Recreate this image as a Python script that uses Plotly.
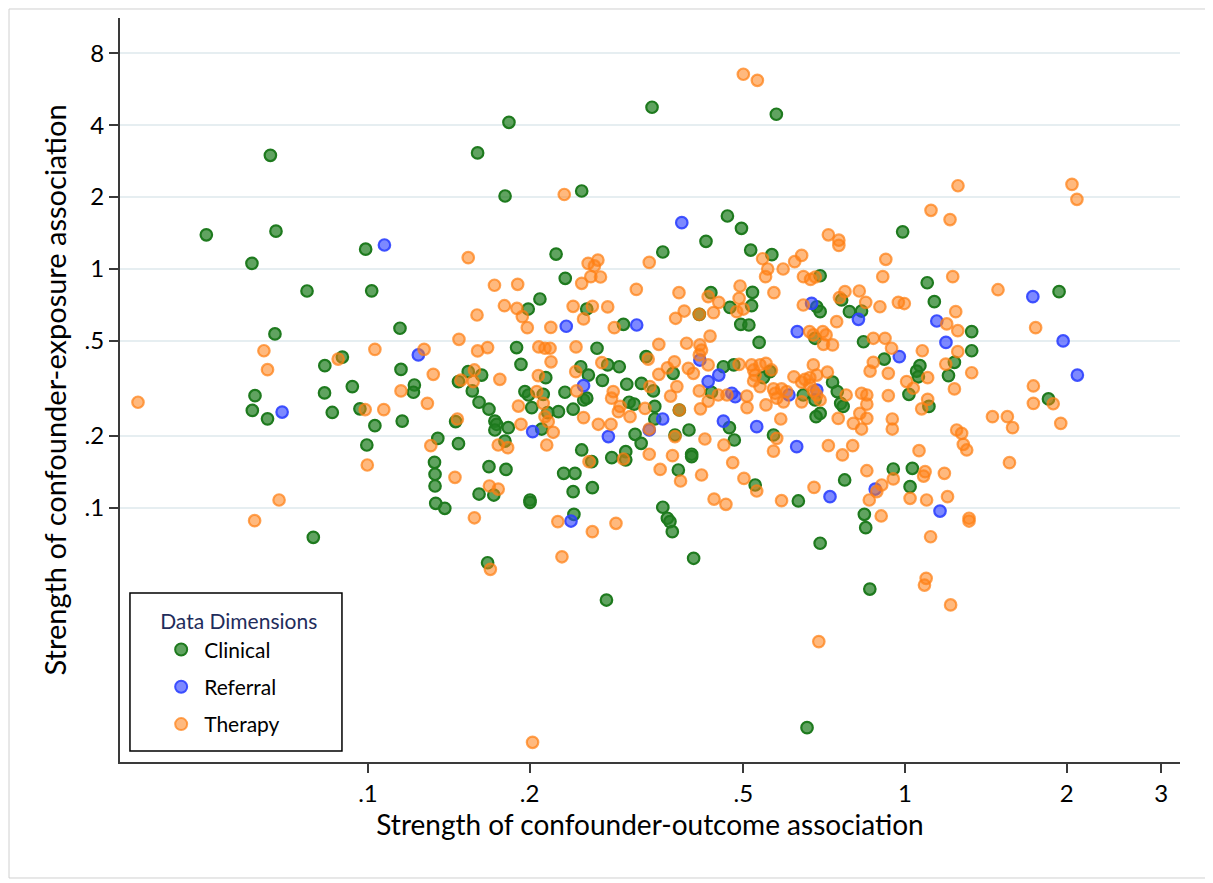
import plotly.graph_objects as go

# ---------------- data (x = confounder-outcome, y = confounder-exposure) ----------------
clinical_points = [
    (0.338, 4.75), (0.183, 4.11), (0.160, 3.06), (0.0658, 2.99), (0.180, 2.02), (0.250, 2.12), (0.050, 1.39),
    (0.0674, 1.44), (0.0608, 1.056), (0.099, 1.21), (0.224, 1.155), (0.233, 0.914), (0.077, 0.809), (0.1016, 0.81),
    (0.209, 0.749), (0.576, 4.44), (0.467, 1.666), (0.496, 1.48), (0.426, 1.306), (0.354, 1.178), (0.516, 1.20),
    (0.565, 1.148), (0.99, 1.43), (1.10, 0.876), (0.695, 0.937), (1.936, 0.804), (0.435, 0.796), (0.52, 0.799),
    (0.0671, 0.535), (0.0896, 0.428), (0.0831, 0.394), (0.0935, 0.322), (0.083, 0.303), (0.0616, 0.295),
    (0.0609, 0.256), (0.065, 0.236), (0.0858, 0.251), (0.0966, 0.26), (0.1988, 0.68), (0.1147, 0.565),
    (0.2555, 0.68), (0.299, 0.587), (0.1891, 0.469), (0.267, 0.466), (0.1927, 0.399), (0.1152, 0.38),
    (0.1537, 0.372), (0.1628, 0.36), (0.1474, 0.338), (0.2143, 0.351), (0.249, 0.39), (0.2573, 0.36),
    (0.2732, 0.342), (0.2795, 0.397), (0.2937, 0.39), (0.122, 0.327), (0.1215, 0.305), (0.1564, 0.309),
    (0.161, 0.277), (0.168, 0.259), (0.2327, 0.305), (0.2522, 0.283), (0.2555, 0.288), (0.196, 0.307),
    (0.199, 0.297), (0.212, 0.299), (0.2018, 0.263), (0.2162, 0.2505), (0.2263, 0.253), (0.241, 0.259),
    (0.3033, 0.3295), (0.3064, 0.277), (0.313, 0.272), (0.518, 0.702), (0.472, 0.691), (0.414, 0.646),
    (0.4945, 0.587), (0.512, 0.583), (0.685, 0.695), (0.695, 0.663), (0.762, 0.742), (0.788, 0.663),
    (0.83, 0.667), (0.68, 0.513), (0.535, 0.493), (0.3295, 0.4296), (0.37, 0.366), (0.323, 0.332),
    (0.34, 0.309), (0.342, 0.266), (0.38, 0.257), (0.436, 0.305), (0.459, 0.39), (0.48, 0.397),
    (0.545, 0.351), (0.5605, 0.372), (0.6465, 0.297), (0.68, 0.283), (0.695, 0.2487), (0.733, 0.336),
    (0.748, 0.307), (0.759, 0.274), (0.767, 0.266), (0.837, 0.496), (0.915, 0.42), (1.134, 0.73),
    (1.331, 0.547), (1.331, 0.455), (1.236, 0.407), (1.066, 0.394), (1.051, 0.374), (1.059, 0.354),
    (1.205, 0.358), (1.017, 0.299), (1.108, 0.266), (1.85, 0.286), (0.103, 0.221), (0.0995, 0.1835),
    (0.0791, 0.0754), (0.1158, 0.231), (0.1456, 0.23), (0.1723, 0.231), (0.1736, 0.224), (0.1723, 0.212),
    (0.1825, 0.2168), (0.1799, 0.1906), (0.1349, 0.1956), (0.1474, 0.1858), (0.2106, 0.214), (0.3143, 0.2034),
    (0.3226, 0.1865), (0.25, 0.1749), (0.261, 0.1562), (0.2844, 0.1624), (0.302, 0.172), (0.302, 0.159),
    (0.133, 0.1553), (0.1333, 0.1384), (0.1333, 0.1236), (0.1337, 0.1046), (0.139, 0.0997), (0.168, 0.1489),
    (0.1807, 0.145), (0.161, 0.1144), (0.1715, 0.1133), (0.2003, 0.108), (0.2003, 0.1056), (0.2314, 0.1397),
    (0.2429, 0.1397), (0.241, 0.117), (0.2617, 0.1216), (0.2418, 0.0941), (0.342, 0.2357), (0.373, 0.202),
    (0.396, 0.212), (0.4006, 0.1678), (0.4006, 0.164), (0.3784, 0.1442), (0.471, 0.2168), (0.481, 0.1925),
    (0.569, 0.202), (0.526, 0.1248), (0.683, 0.241), (0.633, 0.107), (0.772, 0.131), (0.951, 0.1456),
    (0.84, 0.0941), (0.845, 0.0827), (0.354, 0.1007), (0.361, 0.0906), (0.365, 0.0877), (0.3687, 0.0796),
    (0.695, 0.0712), (1.032, 0.1466), (1.022, 0.1228), (0.167, 0.059), (0.278, 0.0412), (0.404, 0.0616),
    (0.86, 0.0458), (0.657, 0.01205),
]

referral_points = [
    (0.1073, 1.26), (0.384, 1.563), (1.73, 0.766), (0.234, 0.576), (0.3165, 0.583), (0.1241, 0.437),
    (0.252, 0.325), (0.67, 0.718), (0.819, 0.616), (0.63, 0.547), (0.415, 0.416), (0.43, 0.338),
    (0.45, 0.36), (0.476, 0.302), (0.483, 0.292), (0.608, 0.297), (0.685, 0.3115), (0.976, 0.43),
    (1.146, 0.606), (1.97, 0.5), (1.192, 0.493), (2.094, 0.36), (0.0692, 0.252), (0.2026, 0.2086),
    (0.2803, 0.199), (0.2388, 0.0882), (0.3538, 0.2357), (0.334, 0.212), (0.459, 0.231), (0.5295, 0.219),
    (0.6285, 0.1806), (0.725, 0.1115), (0.88, 0.12), (1.162, 0.0971),
]

therapy_points = [
    (0.232, 2.05), (0.1537, 1.115), (0.257, 1.056), (0.268, 1.09), (0.264, 1.03), (0.26, 0.929), (0.271, 0.926),
    (0.25, 0.871), (0.334, 1.066), (0.316, 0.822), (0.172, 0.855), (0.19, 0.863), (0.50, 6.53), (0.531, 6.16),
    (1.255, 2.23), (2.046, 2.26), (2.09, 1.957), (0.543, 1.104), (0.555, 1.0), (0.55, 0.929), (0.593, 1.0),
    (0.623, 1.073), (0.642, 1.14), (0.72, 1.39), (0.753, 1.32), (0.753, 1.256), (1.118, 1.76), (1.213, 1.61),
    (0.921, 1.098), (0.909, 0.929), (1.227, 0.929), (0.647, 0.929), (0.667, 0.905), (0.681, 0.926), (1.49, 0.819),
    (0.3794, 0.796), (0.493, 0.849), (0.57, 0.796), (0.773, 0.804), (0.822, 0.809), (0.064, 0.455), (0.065, 0.379),
    (0.103, 0.461), (0.088, 0.42), (0.0373, 0.277), (0.0988, 0.258), (0.107, 0.258), (0.1795, 0.702),
    (0.1894, 0.684), (0.1938, 0.632), (0.1596, 0.642), (0.198, 0.568), (0.219, 0.57), (0.241, 0.698),
    (0.2617, 0.698), (0.252, 0.618), (0.2795, 0.694), (0.2875, 0.568), (0.1477, 0.508), (0.1272, 0.461),
    (0.16, 0.454), (0.167, 0.469), (0.208, 0.472), (0.2136, 0.466), (0.2183, 0.466), (0.244, 0.472),
    (0.2192, 0.409), (0.1323, 0.3625), (0.1578, 0.378), (0.149, 0.343), (0.157, 0.338), (0.176, 0.3455),
    (0.2076, 0.358), (0.2437, 0.372), (0.2725, 0.4055), (0.1152, 0.309), (0.129, 0.274), (0.2446, 0.309),
    (0.2062, 0.307), (0.212, 0.274), (0.1906, 0.267), (0.2862, 0.307), (0.2842, 0.288), (0.2947, 0.266),
    (0.2926, 0.253), (0.43, 0.766), (0.45, 0.725), (0.491, 0.754), (0.50, 0.68), (0.486, 0.663), (0.44, 0.657),
    (0.388, 0.667), (0.374, 0.622), (0.414, 0.646), (0.6465, 0.707), (0.746, 0.602), (0.755, 0.759),
    (0.845, 0.725), (0.898, 0.695), (0.664, 0.547), (0.675, 0.53), (0.703, 0.547), (0.713, 0.53),
    (0.705, 0.484), (0.733, 0.481), (0.4335, 0.524), (0.348, 0.484), (0.392, 0.489), (0.415, 0.481),
    (0.418, 0.458), (0.414, 0.437), (0.43, 0.397), (0.3325, 0.42), (0.372, 0.409), (0.361, 0.386),
    (0.395, 0.384), (0.4036, 0.366), (0.348, 0.3625), (0.335, 0.322), (0.376, 0.322), (0.366, 0.294),
    (0.328, 0.261), (0.38, 0.257), (0.414, 0.309), (0.43, 0.28), (0.416, 0.26), (0.449, 0.297), (0.466, 0.297),
    (0.491, 0.399), (0.518, 0.397), (0.5225, 0.378), (0.537, 0.397), (0.551, 0.403), (0.526, 0.36),
    (0.564, 0.378), (0.5225, 0.34), (0.537, 0.322), (0.5075, 0.294), (0.508, 0.263), (0.551, 0.27),
    (0.569, 0.315), (0.573, 0.302), (0.589, 0.315), (0.602, 0.307), (0.577, 0.288), (0.594, 0.278),
    (0.621, 0.354), (0.642, 0.336), (0.651, 0.3455), (0.665, 0.351), (0.665, 0.327), (0.642, 0.278),
    (0.675, 0.309), (0.685, 0.297), (0.695, 0.283), (0.675, 0.397), (0.685, 0.36), (0.717, 0.37),
    (0.777, 0.297), (0.83, 0.302), (0.849, 0.297), (0.849, 0.272), (0.824, 0.2487), (0.931, 0.295),
    (0.873, 0.513), (0.918, 0.513), (0.944, 0.466), (0.873, 0.407), (0.861, 0.374), (0.931, 0.366),
    (0.972, 0.725), (0.997, 0.717), (1.243, 0.663), (1.196, 0.589), (1.254, 0.552), (1.751, 0.568),
    (1.077, 0.455), (1.254, 0.451), (1.191, 0.40), (1.102, 0.351), (1.007, 0.338), (1.036, 0.317),
    (1.331, 0.368), (1.236, 0.315), (1.102, 0.285), (1.074, 0.26), (1.734, 0.324), (1.734, 0.274),
    (1.888, 0.273), (0.0997, 0.1513), (0.0683, 0.108), (0.0615, 0.0885), (0.1467, 0.2357), (0.1309, 0.1823),
    (0.1927, 0.224), (0.1748, 0.1835), (0.182, 0.1788), (0.2136, 0.241), (0.2166, 0.2297), (0.2213, 0.2074),
    (0.2152, 0.1835), (0.252, 0.2389), (0.2685, 0.224), (0.2835, 0.224), (0.3076, 0.241), (0.258, 0.1562),
    (0.299, 0.1603), (0.1452, 0.1344), (0.1683, 0.1236), (0.1748, 0.12), (0.1578, 0.091), (0.2257, 0.0877),
    (0.2617, 0.0796), (0.2896, 0.0863), (0.334, 0.214), (0.373, 0.199), (0.424, 0.1944), (0.334, 0.1678),
    (0.369, 0.1656), (0.35, 0.145), (0.382, 0.1297), (0.418, 0.1374), (0.46, 0.1835), (0.4777, 0.1547),
    (0.577, 0.1956), (0.569, 0.173), (0.5013, 0.133), (0.5295, 0.1178), (0.441, 0.109), (0.464, 0.1036),
    (0.587, 0.2357), (0.751, 0.237), (0.8013, 0.226), (0.83, 0.214), (0.849, 0.237), (0.947, 0.2357),
    (0.947, 0.214), (0.72, 0.1823), (0.7647, 0.1667), (0.799, 0.1823), (0.589, 0.1073), (0.677, 0.122),
    (0.849, 0.1432), (0.951, 0.1323), (0.886, 0.117), (0.905, 0.1248), (0.858, 0.108), (0.903, 0.0926),
    (1.455, 0.241), (1.551, 0.241), (1.586, 0.2168), (1.95, 0.226), (1.248, 0.212), (1.275, 0.2053),
    (1.284, 0.1847), (1.303, 0.1749), (1.062, 0.1737), (1.565, 0.1547), (1.09, 0.1419), (1.083, 0.136),
    (1.184, 0.1397), (1.022, 0.1098), (1.097, 0.108), (1.2, 0.1115), (1.316, 0.0906), (1.316, 0.0882),
    (1.116, 0.0758), (0.169, 0.0554), (0.2297, 0.0625), (0.2025, 0.01046), (1.095, 0.0508), (1.087, 0.0476),
    (1.216, 0.0393), (0.691, 0.0276),
]

x_tick_values = [0.1, 0.2, 0.5, 1, 2, 3]
x_tick_labels = [".1", ".2", ".5", "1", "2", "3"]
y_tick_values = [0.1, 0.2, 0.5, 1, 2, 4, 8]
y_tick_labels = [".1", ".2", ".5", "1", "2", "4", "8"]

FONT = "Lato, 'Open Sans', sans-serif"

series = [
    ("Clinical", clinical_points, "rgba(34,128,34,0.72)", "rgb(30,122,30)"),
    ("Referral", referral_points, "rgba(45,65,255,0.62)", "rgba(45,65,255,0.9)"),
    ("Therapy", therapy_points, "rgba(255,128,20,0.55)", "rgba(255,128,20,0.72)"),
]

fig = go.Figure()
for name, pts, fill, line in series:
    xs = [p[0] for p in pts]
    ys = [p[1] for p in pts]
    fig.add_trace(go.Scatter(
        x=xs, y=ys, mode="markers", name=name, legendgroup=name,
        marker=dict(size=11.5, color=fill, line=dict(color=line, width=2.2)),
    ))

# page body has an 8px default margin; figure sized/margined so the plot area lands
# at page x 120..1180, y 18..762
fig.update_layout(
    width=1205, height=875,
    margin=dict(l=112, r=33, t=10, b=121, autoexpand=False),
    paper_bgcolor="white", plot_bgcolor="white",
    font=dict(family=FONT, size=21, color="black"),
    showlegend=True,
    legend=dict(
        x=0.036, y=0.215, xanchor="left", yanchor="top",
        bgcolor="rgba(0,0,0,0)", borderwidth=0,
        title=dict(text="Data Dimensions", font=dict(size=21, color="#1f2d5c", family=FONT)),
        font=dict(size=21, color="black", family=FONT),
        tracegroupgap=7, itemsizing="constant", itemwidth=36,
    ),
    xaxis=dict(
        type="log", range=[-1.4618, 0.5121],
        tickvals=x_tick_values, ticktext=x_tick_labels,
        showgrid=False, showline=True, linecolor="#3a3a3a", linewidth=2,
        ticks="outside", ticklen=9, tickwidth=1.5, tickcolor="#3a3a3a",
        tickfont=dict(size=24),
        title=dict(text="Strength of confounder-outcome association", font=dict(size=28), standoff=8),
    ),
    yaxis=dict(
        type="log", range=[-2.0628, 1.0502],
        tickvals=y_tick_values, ticktext=y_tick_labels,
        showgrid=True, gridcolor="#e6eef1", gridwidth=2,
        showline=True, linecolor="#3a3a3a", linewidth=2,
        ticks="outside", ticklen=9, tickwidth=1.5, tickcolor="#3a3a3a",
        tickfont=dict(size=24),
        title=dict(text="Strength of confounder-exposure association", font=dict(size=29), standoff=9),
    ),
    shapes=[
        # legend frame
        dict(type="rect", xref="paper", yref="paper", x0=0.0094, x1=0.2094, y0=0.0148, y1=0.2272,
             line=dict(color="black", width=1.5), fillcolor="rgba(0,0,0,0)", layer="above"),
        # outer graph-region frame
        dict(type="rect", xref="paper", yref="paper", x0=-0.1047, x1=1.0264, y0=-0.1559, y1=1.0121,
             line=dict(color="#d0d0d0", width=1), fillcolor="rgba(0,0,0,0)"),
    ],
)

fig.write_html("out.html")
